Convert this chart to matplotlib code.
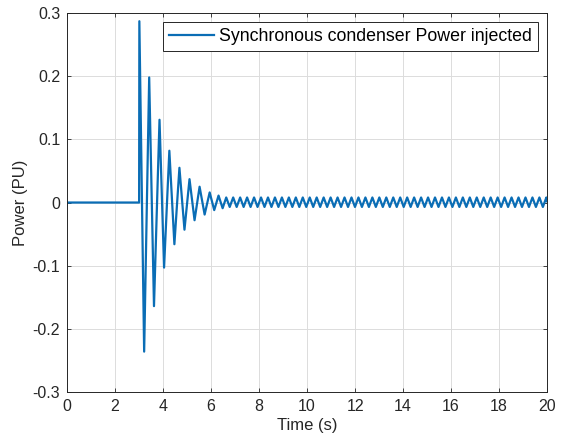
"""
Synchronous condenser power injected after a disturbance at t = 3 s.
Values read off the reference plot (extrema of the response).
"""
import matplotlib
matplotlib.use("Agg")
import matplotlib.pyplot as plt
import numpy as np

plt.rcParams.update({
    "font.family": ["Liberation Sans", "DejaVu Sans"],
    "font.size": 11,
})

# ── Transient: flat line, then decaying swing (extrema) ──────────────────────
transient_t = [0.00, 3.00, 3.01, 3.21, 3.42, 3.62, 3.85, 4.04, 4.26, 4.47,
               4.68, 4.89, 5.10, 5.31, 5.52, 5.73, 5.94, 6.13, 6.31, 6.48]
transient_p = [0.000, 0.000, 0.287, -0.236, 0.198, -0.164, 0.131, -0.103,
               0.082, -0.066, 0.055, -0.043, 0.037, -0.028, 0.025, -0.019,
               0.016, -0.012, 0.011, -0.009]

# ── Sustained small oscillation (extrema) ────────────────────────────────────
steady_t = [6.630, 6.775, 6.920, 7.065, 7.210, 7.355, 7.500, 7.645, 7.790,
            7.935, 8.080, 8.225, 8.370, 8.515, 8.660, 8.805, 8.950, 9.095,
            9.240, 9.385, 9.530, 9.675, 9.820, 9.965, 10.110, 10.255, 10.400,
            10.545, 10.690, 10.835, 10.980, 11.125, 11.270, 11.415, 11.560,
            11.705, 11.850, 11.995, 12.140, 12.285, 12.430, 12.575, 12.720,
            12.865, 13.010, 13.155, 13.300, 13.445, 13.590, 13.735, 13.880,
            14.025, 14.170, 14.315, 14.460, 14.605, 14.750, 14.895, 15.040,
            15.185, 15.330, 15.475, 15.620, 15.765, 15.910, 16.055, 16.200,
            16.345, 16.490, 16.635, 16.780, 16.925, 17.070, 17.215, 17.360,
            17.505, 17.650, 17.795, 17.940, 18.085, 18.230, 18.375, 18.520,
            18.665, 18.810, 18.955, 19.100, 19.245, 19.390, 19.535, 19.680,
            19.825, 19.970, 20.000]
steady_p = [0.008, -0.007] * 46 + [0.008, 0.002]

time = np.array(transient_t + steady_t)
power = np.array(transient_p + steady_p)

XTICKS = [0, 2, 4, 6, 8, 10, 12, 14, 16, 18, 20]
YTICKS = [-0.3, -0.2, -0.1, 0, 0.1, 0.2, 0.3]
YTICKLABELS = ["-0.3", "-0.2", "-0.1", "0", "0.1", "0.2", "0.3"]

# ── Figure ───────────────────────────────────────────────────────────────────
fig = plt.figure(figsize=(5.64, 4.41), dpi=100)
ax = fig.add_axes([0.119, 0.111, 0.851, 0.8595])

ax.plot(time, power, color="#0a6db5", linewidth=1.6,
        label="Synchronous condenser Power injected")

ax.set_xlim(0, 20)
ax.set_ylim(-0.3, 0.3)
ax.set_xticks(XTICKS)
ax.set_yticks(YTICKS)
ax.set_yticklabels(YTICKLABELS)
ax.set_xlabel("Time (s)", fontsize=12, color="#262626", labelpad=3)
ax.set_ylabel("Power (PU)", fontsize=12, color="#262626", labelpad=3)

ax.grid(True, color="#dcdcdc", linewidth=0.7)
ax.set_axisbelow(True)
ax.tick_params(direction="in", length=3, width=0.6, colors="#262626",
               top=True, right=True, labelsize=11.5, pad=5)
for s in ax.spines.values():
    s.set_color("#262626")
    s.set_linewidth(0.7)

leg = ax.legend(loc="upper right", fontsize=12.8, frameon=True, fancybox=False,
                edgecolor="#262626", framealpha=1, handlelength=2.5,
                borderpad=0.35, borderaxespad=0.5, handletextpad=0.3)
leg.get_frame().set_linewidth(0.7)

fig.savefig("out.png", dpi=100)
